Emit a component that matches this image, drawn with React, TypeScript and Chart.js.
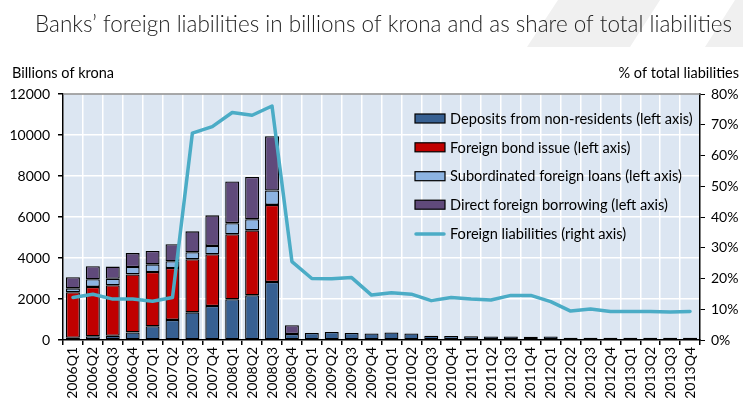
import React, { useEffect, useRef } from "react";
import { Chart, registerables } from "chart.js";

Chart.register(...registerables);

const TITLE = "Banks\u2019 foreign liabilities in billions of krona and as share of total liabilities";
const LEFT_AXIS_TITLE = "Billions of krona";
const RIGHT_AXIS_TITLE = "% of total liabilities";

const categories = [
  "2006Q1", "2006Q2", "2006Q3", "2006Q4",
  "2007Q1", "2007Q2", "2007Q3", "2007Q4",
  "2008Q1", "2008Q2", "2008Q3", "2008Q4",
  "2009Q1", "2009Q2", "2009Q3", "2009Q4",
  "2010Q1", "2010Q2", "2010Q3", "2010Q4",
  "2011Q1", "2011Q2", "2011Q3", "2011Q4",
  "2012Q1", "2012Q2", "2012Q3", "2012Q4",
  "2013Q1", "2013Q2", "2013Q3", "2013Q4",
];

const deposits = [
  110, 180, 210, 370, 670, 980, 1350, 1660, 1990, 2180, 2830, 290,
  340, 390, 340, 320, 370, 320, 210, 200, 180, 170, 170, 160,
  170, 110, 110, 110, 110, 110, 110, 110,
];
const bondIssue = [
  2220, 2410, 2460, 2830, 2650, 2530, 2590, 2520, 3170, 3170, 3760, 0,
  0, 0, 0, 0, 0, 0, 0, 0, 0, 0, 0, 0, 0, 0, 0, 0, 0, 0, 0, 0,
];
const subordinated = [
  190, 370, 320, 360, 370, 330, 340, 410, 540, 540, 700, 0,
  0, 0, 0, 0, 0, 0, 0, 0, 0, 0, 0, 0, 0, 0, 0, 0, 0, 0, 0, 0,
];
const directBorrowing = [
  540, 640, 590, 680, 650, 830, 1020, 1490, 2030, 2060, 2650, 430,
  0, 0, 0, 0, 0, 0, 0, 0, 0, 0, 0, 0, 0, 0, 0, 0, 0, 0, 0, 0,
];
const shareOfTotal = [
  13.8, 14.9, 13.3, 13.3, 12.6, 13.8, 67.3, 69.4, 74.0, 73.1, 76.1, 25.5,
  20.0, 19.9, 20.3, 14.6, 15.4, 14.9, 12.8, 13.8, 13.3, 13.0, 14.5, 14.5,
  12.5, 9.4, 10.1, 9.3, 9.3, 9.3, 9.1, 9.3,
];

const leftTicks = [0, 2000, 4000, 6000, 8000, 10000, 12000];
const rightTicks = [0, 10, 20, 30, 40, 50, 60, 70, 80];

const COLORS = {
  deposits: "#376092",
  bond: "#C00000",
  sub: "#8DB4E2",
  direct: "#604A7B",
  line: "#4BACC6",
  plotBg: "#DCE6F2",
};

const FONT = "Lato, 'DejaVu Sans', sans-serif";

const decorPlugin = {
  id: "decor",
  beforeDraw(chart: any) {
    const { ctx, chartArea: a } = chart;
    ctx.save();
    // faint watermark shapes behind the title
    ctx.fillStyle = "#F0F0F0";
    ctx.beginPath();
    ctx.moveTo(558, 0);
    ctx.lineTo(660, 0);
    ctx.lineTo(630, 47);
    ctx.lineTo(527, 47);
    ctx.closePath();
    ctx.fill();
    ctx.beginPath();
    ctx.moveTo(735, 0);
    ctx.lineTo(843, 0);
    ctx.lineTo(813, 47);
    ctx.lineTo(705, 47);
    ctx.closePath();
    ctx.fill();
    // plot background
    ctx.fillStyle = COLORS.plotBg;
    ctx.fillRect(a.left, a.top, a.right - a.left, a.bottom - a.top);
    ctx.restore();
  },
  afterDraw(chart: any) {
    const { ctx, chartArea: a } = chart;
    ctx.save();
    // top border of plot
    ctx.strokeStyle = "#8C8C8C";
    ctx.lineWidth = 1.5;
    ctx.beginPath();
    ctx.moveTo(a.left, a.top);
    ctx.lineTo(a.right, a.top);
    ctx.stroke();

    // title (condensed to mimic the original narrow typeface)
    ctx.fillStyle = "#222";
    ctx.font = `300 24px ${FONT}`;
    ctx.textBaseline = "alphabetic";
    ctx.textAlign = "left";
    const tw = ctx.measureText(TITLE).width;
    ctx.save();
    ctx.translate(35, 32);
    ctx.scale(697 / tw, 1);
    ctx.fillText(TITLE, 0, 0);
    ctx.restore();

    // axis titles
    ctx.font = `14.5px ${FONT}`;
    ctx.fillStyle = "#000";
    ctx.textBaseline = "middle";
    ctx.textAlign = "left";
    ctx.fillText(LEFT_AXIS_TITLE, 12, 73);
    ctx.textAlign = "right";
    ctx.fillText(RIGHT_AXIS_TITLE, 739, 73);

    // legend inside plot area (top right)
    const items = chart.data.datasets.map((d: any) => ({
      label: d.label,
      color: d.type === "line" ? d.borderColor : d.backgroundColor,
      isLine: d.type === "line",
    }));
    const bx = 415;
    const rowY = [118.5, 147.3, 176.2, 204.7, 234];
    ctx.font = `14.6px ${FONT}`;
    ctx.textAlign = "left";
    ctx.textBaseline = "middle";
    items.forEach((it: any, i: number) => {
      const y = rowY[i];
      if (it.isLine) {
        ctx.strokeStyle = it.color;
        ctx.lineWidth = 3.5;
        ctx.lineCap = "round";
        ctx.beginPath();
        ctx.moveTo(bx + 1, y);
        ctx.lineTo(bx + 29, y);
        ctx.stroke();
      } else {
        ctx.fillStyle = it.color;
        ctx.fillRect(bx, y - 4.5, 30, 9);
        ctx.strokeStyle = "#000";
        ctx.lineWidth = 1.2;
        ctx.strokeRect(bx, y - 4.5, 30, 9);
      }
      ctx.fillStyle = "#000";
      ctx.fillText(it.label, 450, y + 0.5);
    });
    ctx.restore();
  },
};

export default function App() {
  const canvasRef = useRef<HTMLCanvasElement | null>(null);

  useEffect(() => {
    const canvas = canvasRef.current;
    if (!canvas) return;
    Chart.defaults.font.family = FONT;
    Chart.defaults.font.size = 14;
    Chart.defaults.color = "#000";

    const barCommon = {
      type: "bar" as const,
      yAxisID: "y",
      stack: "s",
      order: 1,
      borderColor: "#000",
      borderWidth: 1.3,
      borderSkipped: false,
      barPercentage: 0.7,
      categoryPercentage: 1,
    };

    const chart = new Chart(canvas, {
      type: "bar",
      data: {
        labels: categories,
        datasets: [
          { ...barCommon, label: "Deposits from non-residents (left axis)", data: deposits, backgroundColor: COLORS.deposits },
          { ...barCommon, label: "Foreign bond issue (left axis)", data: bondIssue, backgroundColor: COLORS.bond },
          { ...barCommon, label: "Subordinated foreign loans (left axis)", data: subordinated, backgroundColor: COLORS.sub },
          { ...barCommon, label: "Direct foreign borrowing (left axis)", data: directBorrowing, backgroundColor: COLORS.direct },
          {
            type: "line" as const,
            label: "Foreign liabilities (right axis)",
            data: shareOfTotal,
            yAxisID: "y1",
            order: 0,
            borderColor: COLORS.line,
            backgroundColor: COLORS.line,
            borderWidth: 3.5,
            pointRadius: 0,
            tension: 0,
            borderJoinStyle: "round",
            borderCapStyle: "round",
          } as any,
        ],
      },
      options: {
        animation: false,
        responsive: false,
        layout: { padding: { top: 94, left: 0, right: 0, bottom: 0 } },
        plugins: {
          legend: { display: false },
          title: { display: false },
          tooltip: { enabled: false },
        },
        scales: {
          x: {
            stacked: true,
            offset: true,
            grid: {
              offset: true,
              color: "#FFFFFF",
              lineWidth: 1.5,
              tickColor: "#000",
              tickLength: 5,
              drawTicks: true,
            },
            border: { color: "#000", width: 1.5 },
            ticks: {
              autoSkip: false,
              minRotation: 90,
              maxRotation: 90,
              padding: 2,
              font: { size: 14 },
              color: "#000",
            },
            afterFit(scale: any) {
              scale.height = 60;
            },
          },
          y: {
            type: "linear",
            position: "left",
            stacked: true,
            min: leftTicks[0],
            max: leftTicks[leftTicks.length - 1],
            afterBuildTicks(scale: any) {
              scale.ticks = leftTicks.map((v) => ({ value: v }));
            },
            grid: {
              color: "#FFFFFF",
              lineWidth: 1.5,
              tickColor: "#000",
              tickLength: 5,
            },
            border: { color: "#000", width: 1.5 },
            ticks: {
              padding: 8,
              font: { size: 14 },
              color: "#000",
              callback: (v: any) => String(v),
            },
            afterFit(scale: any) {
              scale.width = 63;
            },
          },
          y1: {
            type: "linear",
            position: "right",
            min: rightTicks[0],
            max: rightTicks[rightTicks.length - 1],
            afterBuildTicks(scale: any) {
              scale.ticks = rightTicks.map((v) => ({ value: v }));
            },
            grid: {
              drawOnChartArea: false,
              tickColor: "#000",
              tickLength: 5,
            },
            border: { color: "#000", width: 1.5 },
            ticks: {
              padding: 6,
              font: { size: 14 },
              color: "#000",
              callback: (v: any) => `${v}%`,
            },
            afterFit(scale: any) {
              scale.width = 43;
            },
          },
        },
      },
      plugins: [decorPlugin],
    } as any);

    return () => {
      chart.destroy();
    };
  }, []);

  return (
    <div style={{ position: "absolute", left: 0, top: 0, width: 743, height: 400, background: "#fff" }}>
      <canvas ref={canvasRef} width={743} height={400} style={{ display: "block" }} />
    </div>
  );
}
